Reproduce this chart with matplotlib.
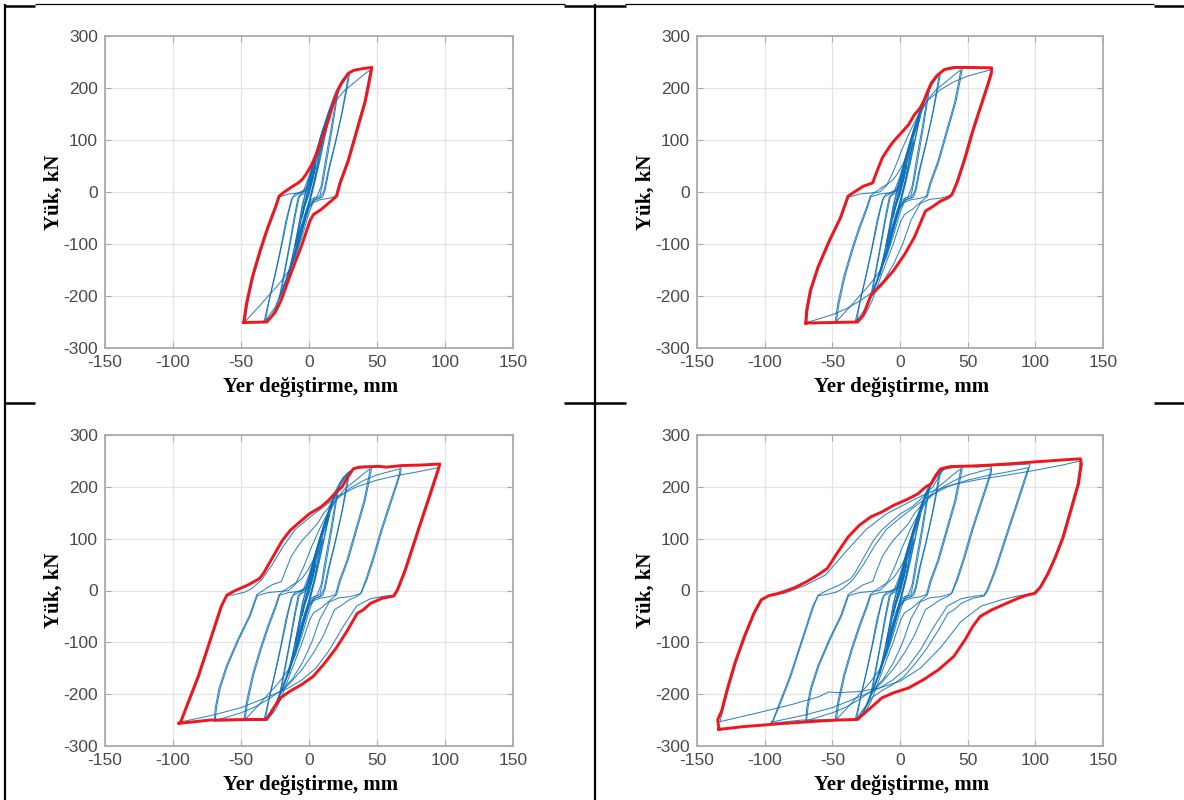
import matplotlib
matplotlib.use("Agg")
import matplotlib.pyplot as plt
from matplotlib.lines import Line2D

plt.rcParams["axes.unicode_minus"] = False

# ---------------------------------------------------------------------------
# Cyclic load-displacement loops (displacement in mm, load in kN).
# Each loop is a closed path: negative peak -> positive peak -> negative peak.
# "first" = first cycle at that amplitude, "repeat" = following cycle.
# ---------------------------------------------------------------------------
cycle_05_first = [(-5, -45), (-3, -20), (0, 5), (3, 32), (5, 55),
                  (3, 25), (0, -5), (-3, -28), (-5, -45)]
cycle_05_repeat = [(-5, -48), (-3, -22), (0, 2), (3, 30), (5, 52),
                   (3, 28), (0, -2), (-3, -25), (-5, -48)]

cycle_10_first = [(-10, -105), (-7, -70), (-4, -30), (0, 10), (4, 50), (7, 78), (10, 100),
                  (7, 62), (4, 20), (0, -22), (-4, -55), (-7, -80), (-10, -105)]
cycle_10_repeat = [(-10, -100), (-7, -66), (-4, -28), (0, 6), (4, 45), (7, 74), (10, 96),
                   (7, 66), (4, 24), (0, -18), (-4, -50), (-7, -76), (-10, -100)]

cycle_15_first = [(-15, -160), (-12, -125), (-8, -70), (-5, -25), (-2, 5), (2, 40), (6, 80),
                  (10, 112), (15, 150), (12, 110), (8, 60), (4, 15), (0, -25), (-4, -65),
                  (-8, -105), (-12, -135), (-15, -160)]
cycle_15_repeat = [(-15, -155), (-11, -110), (-7, -58), (-4, -18), (-1, 8), (3, 45), (7, 85),
                   (11, 118), (15, 145), (12, 112), (8, 66), (4, 20), (0, -20), (-4, -60),
                   (-8, -100), (-12, -130), (-15, -155)]

cycle_20_first = [(-22, -205), (-19, -165), (-15, -110), (-11, -50), (-8, -10), (-5, -2),
                  (-2, 5), (1, 30), (5, 70), (10, 115), (15, 155), (19, 183), (22, 200),
                  (20, 170), (17, 120), (13, 60), (10, 15), (8, -8), (4, -12), (0, -30),
                  (-5, -75), (-10, -120), (-15, -160), (-19, -185), (-22, -205)]
cycle_20_repeat = [(-21, -200), (-18, -158), (-14, -102), (-10, -45), (-7, -8), (-3, -2),
                   (0, 10), (3, 45), (8, 95), (13, 140), (18, 178), (21, 195),
                   (19, 165), (16, 118), (12, 60), (9, 12), (6, -9), (2, -14), (-2, -38),
                   (-7, -85), (-12, -130), (-16, -165), (-21, -200)]

cycle_30_first = [(-33, -248), (-30, -215), (-26, -170), (-21, -110), (-17, -55), (-13, -15),
                  (-10, -3), (-5, 0), (-2, 8), (1, 35), (5, 75), (10, 120), (15, 160),
                  (20, 195), (25, 218), (30, 229),
                  (28, 200), (25, 160), (20, 100), (15, 45), (12, 5), (10, -10), (5, -14),
                  (0, -30), (-5, -70), (-12, -130), (-18, -180), (-24, -220), (-28, -240),
                  (-33, -248)]
cycle_30_repeat = [(-32, -247), (-29, -205), (-24, -150), (-19, -90), (-15, -40), (-12, -10),
                   (-7, -3), (-3, 2), (0, 20), (4, 65), (9, 110), (14, 150), (19, 182),
                   (24, 208), (29, 226),
                   (27, 195), (24, 150), (19, 92), (14, 40), (11, 2), (8, -12), (3, -16),
                   (-2, -40), (-8, -95), (-14, -145), (-20, -190), (-25, -222), (-32, -247)]

cycle_45_first = [(-48, -251), (-46, -215), (-41.7, -164), (-36, -113), (-30.4, -68.5),
                  (-24.8, -30), (-22, -8), (-19, -1.6), (-12, 11), (-7.9, 17.5), (-5, 24),
                  (-2.3, 33.5), (2, 52.6), (6.2, 78), (9, 97), (14.7, 142), (18.9, 180),
                  (23.1, 205.7), (28.8, 228), (33, 234), (40, 237.5), (46.2, 239.5),
                  (46, 236), (44.3, 212), (41.4, 174), (35.8, 123), (28.8, 59), (23, 17.5),
                  (20.3, -8), (17.5, -14.5), (9, -33.5), (3.4, -43), (0.6, -56), (-5, -100),
                  (-13.5, -158), (-20.6, -209), (-24.8, -231), (-31, -250), (-48, -251)]
cycle_45_repeat = [(-47, -249), (-45, -214), (-40.7, -163), (-35, -112), (-29.4, -68),
                   (-24, -30), (-21.5, -9), (-15, -4), (-8, -2), (-4, 3), (0, 30), (5, 75),
                   (10, 118), (15, 152), (20, 176), (26, 195), (34, 212), (40, 225),
                   (45, 235),
                   (43.3, 211), (40.4, 173), (34.8, 122), (27.8, 58), (22, 17), (19.5, -8),
                   (15, -12), (8, -15), (3, -20), (0, -40), (-5, -85), (-10, -125),
                   (-15, -152), (-20, -170), (-25, -186), (-30, -200), (-36, -218),
                   (-42, -235), (-47, -249)]

cycle_68_first = [(-69.6, -252), (-69, -228), (-66.3, -190), (-60.7, -145), (-52.3, -94),
                  (-44, -49.4), (-38.4, -8), (-32.8, 1.6), (-27.2, 11), (-20.2, 17.5),
                  (-17, 40), (-13, 66), (-8, 86), (-4.9, 97), (0.7, 113), (6.2, 129),
                  (10.5, 148), (14.7, 161), (17.4, 174), (23, 209), (27.2, 223.5),
                  (32.8, 235.7), (39.8, 239.5), (50.9, 239.5), (67.7, 238.8),
                  (67.5, 228), (64.9, 205.7), (59.3, 161), (53.7, 116), (48.1, 65),
                  (42.6, 20.7), (38.4, -4.8), (35.6, -11), (30, -17.5), (23, -30),
                  (18.8, -36.7), (14.7, -62), (10.5, -87.7), (3.5, -119.6), (-4.9, -151.5),
                  (-13.3, -177), (-21.6, -199), (-27.2, -237.6), (-31.4, -250), (-50, -251),
                  (-69.6, -252)]
cycle_68_repeat = [(-69, -251), (-68, -226), (-65.3, -189), (-59.7, -144), (-51.3, -93),
                   (-43, -48), (-38, -10), (-30, -4), (-22, -2), (-15, 0), (-10, 12),
                   (-4, 45), (2, 85), (8, 120), (14, 150), (20, 175), (30, 197), (40, 212),
                   (50, 223), (60, 230), (67, 235),
                   (66.5, 226), (64, 205), (58.3, 160), (52.7, 115), (47.1, 64), (41.6, 20),
                   (38, -6), (30, -12), (22, -14), (15, -22), (8, -55), (2, -100),
                   (-5, -140), (-12, -170), (-20, -192), (-30, -210), (-40, -225),
                   (-50, -236), (-60, -244), (-69, -251)]

cycle_95_first = [(-95.6, -256.4), (-94.1, -252), (-89.9, -223), (-81.5, -166), (-75.8, -121),
                  (-70.2, -76), (-64.6, -31), (-60.3, -8.6), (-53.3, 1), (-44.8, 10.6),
                  (-36.4, 23), (-33.5, 33), (-27.9, 58.6), (-19.5, 97), (-13.8, 116),
                  (-8.2, 129), (0.3, 148), (8.7, 161), (14.4, 174), (20, 190), (24.2, 199.5),
                  (28.5, 219), (32.7, 235), (37, 238), (51, 239.5), (56.7, 238), (68, 241),
                  (82, 242), (96.1, 244),
                  (95.6, 238), (93.3, 218.6), (87.7, 174), (82, 129), (76.4, 84), (70.8, 39),
                  (65.1, 1), (62.3, -10.6), (53.8, -15), (45.4, -24.6), (39.8, -37.5),
                  (35.5, -44), (28.5, -76), (20, -111), (11.6, -140), (3.1, -165.6),
                  (-5.4, -181.5), (-13.8, -194), (-20.9, -207), (-25.1, -223),
                  (-31.3, -248.8), (-44.8, -248.8), (-73, -250), (-95.6, -256.4)]
cycle_95_repeat = [(-95, -254), (-93.5, -250), (-89, -222), (-80.5, -165), (-75, -120),
                   (-69.3, -75), (-63.7, -30), (-60.5, -10), (-55, -8), (-47, -3), (-42, 4),
                   (-35, 20), (-27, 50), (-19, 85), (-10, 118), (0, 140), (10, 160),
                   (20, 180), (35, 200), (50, 213), (65, 222), (80, 229), (95, 237),
                   (94.5, 234), (92.3, 218), (86.7, 173), (81, 128), (75.4, 83), (69.8, 38),
                   (64.3, 1), (62, -9), (55, -11), (45, -16), (35, -30), (25, -70),
                   (15, -115), (5, -150), (-5, -172), (-15, -188), (-30, -205),
                   (-50, -226), (-70, -240), (-95, -254)]

cycle_133_first = [(-133.8, -268), (-134.7, -249), (-131.9, -233), (-127.7, -191),
                   (-122, -140), (-115, -88.6), (-108, -44), (-102.6, -18), (-97, -10),
                   (-91.4, -6.7), (-85.8, -2.2), (-77.4, 6), (-69, 17), (-60.7, 30),
                   (-53.7, 42.6), (-46.7, 71), (-38.4, 103), (-30, 126), (-21.6, 142),
                   (-13.3, 151.7), (-4.9, 164), (6.3, 177), (13.3, 186.6), (18.8, 199.5),
                   (23, 206), (26.4, 222), (30, 234.7), (37, 239), (51, 240), (65, 241.7),
                   (78.8, 244), (92.8, 246.8), (106.7, 249.4), (120.7, 252), (133.3, 254),
                   (134, 244), (131.9, 206), (126.3, 154.6), (120.7, 103.4), (115, 65),
                   (109.5, 33), (104, 7.4), (99.8, -5.4), (94.2, -8.6), (87.2, -15),
                   (78.8, -24.6), (67.7, -37.5), (59.3, -50), (53.7, -69.5), (48.1, -95),
                   (39.8, -127), (28.6, -152.6), (17.4, -172), (6.3, -188), (-4.9, -197.5),
                   (-13.3, -207), (-20.2, -223), (-27.2, -239), (-31.4, -248.7),
                   (-46.7, -250), (-60.7, -252), (-88.6, -257), (-116.5, -262.8),
                   (-133.8, -268)]
cycle_133_repeat = [(-133, -253), (-130.9, -232), (-126.7, -190), (-121, -139), (-114, -88),
                    (-107, -43), (-101.6, -18), (-96, -10), (-85, -5), (-70, 10), (-55, 30),
                    (-40, 75), (-25, 118), (-10, 148), (5, 168), (20, 188), (40, 205),
                    (60, 215), (80, 223), (100, 232), (120, 242), (133, 250),
                    (132.8, 240), (130.9, 205), (125.3, 154), (119.7, 103), (114, 64),
                    (108.5, 32), (103, 6), (98, -6), (88, -10), (75, -18), (60, -30),
                    (45, -60), (30, -110), (15, -150), (0, -175), (-15, -188), (-30, -195),
                    (-45, -197), (-53, -196), (-60, -205), (-80, -220), (-105, -236),
                    (-133, -253)]

amplitudes = [5, 10, 15, 20, 30, 45, 68, 95, 133]
first_cycles = [cycle_05_first, cycle_10_first, cycle_15_first, cycle_20_first,
                cycle_30_first, cycle_45_first, cycle_68_first, cycle_95_first,
                cycle_133_first]
repeat_cycles = [cycle_05_repeat, cycle_10_repeat, cycle_15_repeat, cycle_20_repeat,
                 cycle_30_repeat, cycle_45_repeat, cycle_68_repeat, cycle_95_repeat,
                 cycle_133_repeat]

# peak amplitude reached in each panel (row-major order)
panel_peaks = [45, 68, 95, 133]

x_ticks = [-150, -100, -50, 0, 50, 100, 150]
y_ticks = [-300, -200, -100, 0, 100, 200, 300]
x_label = "Yer değiştirme, mm"
y_label = "Yük, kN"

# ---------------------------------------------------------------------------
W, H = 1184, 800
fig = plt.figure(figsize=(W / 100, H / 100), dpi=100)
fig.patch.set_facecolor("white")

# axes boxes in pixels: left, top, right, bottom
boxes = [(105, 36, 513, 348), (697, 36, 1103, 348),
         (105, 435, 513, 746), (697, 435, 1103, 746)]

BLUE = "#0a6fb8"
RED = "#f2151b"
GREY_TXT = "#4a4a4a"


def xy(loop):
    return [p[0] for p in loop], [p[1] for p in loop]


for (l, t, r, b), peak in zip(boxes, panel_peaks):
    ax = fig.add_axes([l / W, 1 - b / H, (r - l) / W, (b - t) / H])
    for amp, f_loop, r_loop in zip(amplitudes, first_cycles, repeat_cycles):
        if amp < peak:
            for loop in (f_loop, r_loop):
                xs, ys = xy(loop)
                ax.plot(xs, ys, color=BLUE, lw=0.75, alpha=0.85, zorder=3)
        elif amp == peak:
            xs, ys = xy(r_loop)
            ax.plot(xs, ys, color=BLUE, lw=0.75, alpha=0.85, zorder=3)
    idx = amplitudes.index(peak)
    xs, ys = xy(first_cycles[idx])
    ax.plot(xs, ys, color=RED, lw=2.1, zorder=4, solid_joinstyle="round")

    ax.set_xlim(-150, 150)
    ax.set_ylim(-300, 300)
    ax.set_xticks(x_ticks)
    ax.set_yticks(y_ticks)
    ax.grid(True, color="#e4e4e4", lw=0.9)
    ax.set_axisbelow(True)
    for s in ax.spines.values():
        s.set_color("#ababab")
        s.set_linewidth(1.3)
    ax.tick_params(direction="in", length=4, width=0.8, color="#ababab",
                   top=True, right=True, labelsize=12.5, labelcolor=GREY_TXT, pad=5)
    for lab in ax.get_xticklabels() + ax.get_yticklabels():
        lab.set_fontfamily("Liberation Sans")
    ax.set_xlabel(x_label, fontsize=15, fontweight="bold", family="Liberation Serif",
                  color="black")
    ax.set_ylabel(y_label, fontsize=15, fontweight="bold", family="Liberation Serif",
                  color="black")
    ax.xaxis.set_label_coords(0.505, -0.125)
    ax.xaxis.label.set_va("center")
    ax.yaxis.set_label_coords(-0.126, 0.5)
    ax.yaxis.label.set_va("center")


# table border lines (pixel coordinates)
def hline(x0, x1, y, lw):
    fig.add_artist(Line2D([x0 / W, x1 / W], [1 - y / H, 1 - y / H],
                          transform=fig.transFigure, color="black", lw=lw,
                          solid_capstyle="butt"))


def vline(x, y0, y1, lw):
    fig.add_artist(Line2D([x / W, x / W], [1 - y0 / H, 1 - y1 / H],
                          transform=fig.transFigure, color="black", lw=lw,
                          solid_capstyle="butt"))


vline(5, 4, 800, 1.6)
vline(595, 4, 800, 1.6)
hline(35, 565, 4, 0.9)
hline(625, 1154, 4, 0.9)
for y in (5.5, 403):
    hline(5, 35, y, 1.8)
    hline(564, 626, y, 1.8)
    hline(1154, 1184, y, 1.8)

fig.savefig("out.png", dpi=100, facecolor="white")
